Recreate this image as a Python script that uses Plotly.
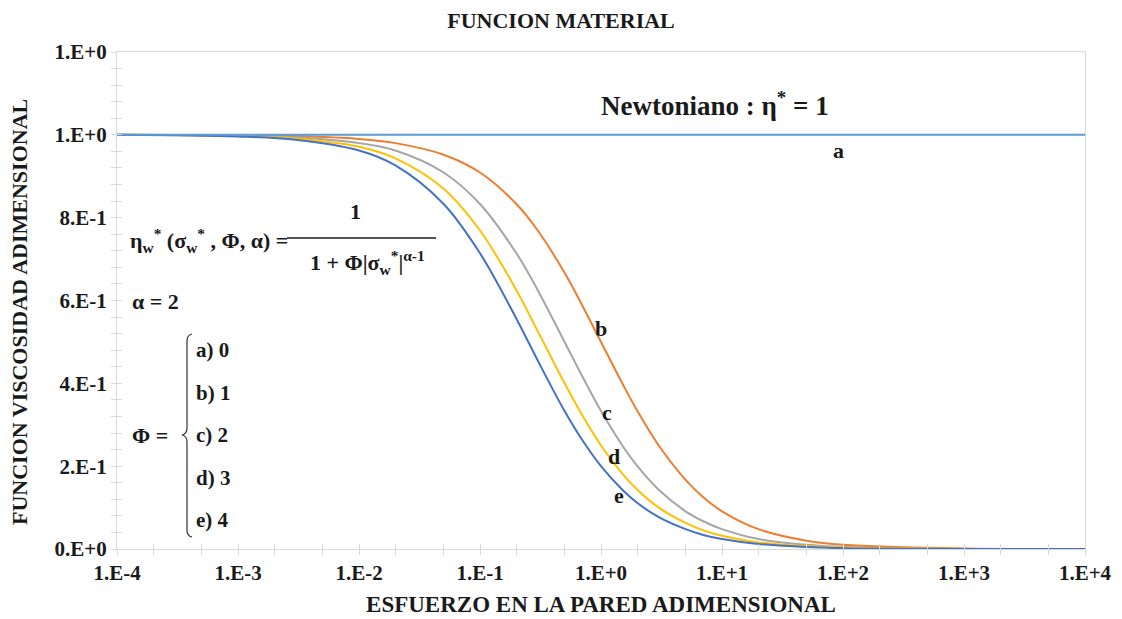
import plotly.graph_objects as go

# ---------------- data ----------------
stress = [1e-4, 1e-3, 3e-3, 1e-2, 2e-2, 5e-2, 0.1, 0.2, 0.3, 0.5, 0.7, 1, 1.5, 2, 3,
          5, 7, 10, 20, 50, 100, 1000, 1e4]
visc_a = [1.000] * 23
visc_b = [1.000, 0.999, 0.997, 0.990, 0.980, 0.952, 0.909, 0.833, 0.769, 0.667, 0.588,
          0.500, 0.400, 0.333, 0.250, 0.167, 0.125, 0.091, 0.048, 0.020, 0.010, 0.001, 0.000]
visc_c = [1.000, 0.998, 0.994, 0.980, 0.962, 0.909, 0.833, 0.714, 0.625, 0.500, 0.417,
          0.333, 0.250, 0.200, 0.143, 0.091, 0.067, 0.048, 0.024, 0.010, 0.005, 0.000, 0.000]
visc_d = [1.000, 0.997, 0.991, 0.971, 0.943, 0.870, 0.769, 0.625, 0.526, 0.400, 0.323,
          0.250, 0.182, 0.143, 0.100, 0.063, 0.045, 0.032, 0.016, 0.007, 0.003, 0.000, 0.000]
visc_e = [1.000, 0.996, 0.988, 0.962, 0.926, 0.833, 0.714, 0.556, 0.455, 0.333, 0.263,
          0.200, 0.143, 0.111, 0.077, 0.048, 0.034, 0.024, 0.012, 0.005, 0.002, 0.000, 0.000]

x_tickvals = [1e-4, 1e-3, 1e-2, 1e-1, 1, 10, 100, 1e3, 1e4]
x_ticktext = ["1.E-4", "1.E-3", "1.E-2", "1.E-1", "1.E+0", "1.E+1", "1.E+2", "1.E+3", "1.E+4"]
y_tickvals = [0, 0.2, 0.4, 0.6, 0.8, 1.0, 1.2]
y_ticktext = ["0.E+0", "2.E-1", "4.E-1", "6.E-1", "8.E-1", "1.E+0", "1.E+0"]

# ---------------- layout geometry ----------------
W, H = 1122, 619
L, R, T, B = 117, 37, 52, 70
PW, PH = W - L - R, H - T - B


def px(x):
    return (x - L) / PW


def py(y):
    return (H - B - y) / PH


FONT = "Times New Roman, Liberation Serif, serif"
INK = "#1a1a1a"
GRAY = "#d9d9d9"

fig = go.Figure()
series = [
    ("a", visc_a, "#5B9BD5", "x2", "y2"),
    ("b", visc_b, "#ED7D31", "x", "y"),
    ("c", visc_c, "#A5A5A5", "x", "y"),
    ("d", visc_d, "#FFC000", "x", "y"),
    ("e", visc_e, "#4472C4", "x", "y"),
]
for name, vals, col, xa, ya in series:
    fig.add_trace(go.Scatter(x=stress, y=vals, mode="lines", name=name,
                             line=dict(color=col, width=2, shape="spline", smoothing=1.0),
                             xaxis=xa, yaxis=ya, showlegend=False, hoverinfo="skip"))

axis_common = dict(showgrid=False, zeroline=False, linecolor=GRAY, linewidth=1.3,
                   showline=True, automargin=False)
fig.update_layout(
    width=W, height=H,
    margin=dict(l=L, r=R, t=T, b=B),
    paper_bgcolor="white", plot_bgcolor="white",
    font=dict(family=FONT, color=INK),
    title=dict(text="<b>FUNCION MATERIAL</b>", x=0.5, xanchor="center", y=1 - 20 / H,
               yanchor="middle", font=dict(size=22, family=FONT, color=INK)),
    xaxis=dict(type="log", range=[-4, 4], tickvals=x_tickvals,
               ticktext=["<b>" + t + "</b>" for t in x_ticktext],
               ticks="outside", ticklen=5, tickcolor=GRAY, mirror=True,
               tickfont=dict(size=21, family=FONT, color=INK),
               minor=dict(ticks="outside", ticklen=5, tickcolor=GRAY, showgrid=False),
               title=dict(text="<b>ESFUERZO EN LA PARED ADIMENSIONAL</b>", standoff=11,
                          font=dict(size=23, family=FONT, color=INK)),
               **axis_common),
    yaxis=dict(range=[0, 1.2], tickvals=y_tickvals,
               ticktext=["<b>" + t + "</b>" for t in y_ticktext],
               ticks="outside", ticklen=5, tickcolor=GRAY, mirror=True,
               tickfont=dict(size=21, family=FONT, color=INK),
               minor=dict(ticks="outside", ticklen=5, tickcolor=GRAY, dtick=0.04, tick0=0,
                          showgrid=False),
               **axis_common),
    xaxis2=dict(type="log", range=[-4, 4], overlaying="x", anchor="y", side="bottom",
                tickvals=x_tickvals, showticklabels=False, ticks="inside", ticklen=5,
                tickcolor=GRAY, minor=dict(ticks="inside", ticklen=5, tickcolor=GRAY),
                showline=False, showgrid=False, zeroline=False, automargin=False),
    yaxis2=dict(range=[0, 1.2], overlaying="y", anchor="x", side="left",
                tickvals=y_tickvals, showticklabels=False, ticks="inside", ticklen=5,
                tickcolor=GRAY, minor=dict(ticks="inside", ticklen=5, tickcolor=GRAY,
                                           dtick=0.04, tick0=0),
                showline=False, showgrid=False, zeroline=False, automargin=False),
)


def ann(text, x, y, size=20, xanchor="center", angle=0):
    fig.add_annotation(text=text, x=px(x), y=py(y), xref="paper", yref="paper",
                       showarrow=False, xanchor=xanchor, yanchor="middle", textangle=angle,
                       font=dict(size=size, family=FONT, color=INK))


# y-axis title
ann("<b>FUNCION VISCOSIDAD ADIMENSIONAL</b>", 19, 312, size=22, angle=-90)

ann("<b>Newtoniano : η<sup>*</sup> = 1</b>", 715, 104, size=27)
ann("<b>a</b>", 838, 150, size=22)
ann("<b>b</b>", 601, 328, size=22)
ann("<b>c</b>", 607, 412, size=22)
ann("<b>d</b>", 614, 456, size=22)
ann("<b>e</b>", 619, 495, size=22)

# formula
ann("<b>η<sub>w</sub><sup>*</sup> (σ<sub>w</sub><sup>*</sup> , Φ, α) =</b>", 128, 240, size=22,
    xanchor="left")
ann("<b>1</b>", 355, 211, size=22)
ann("<b>1 + Φ|σ<sub>w</sub><sup>*</sup>|<sup>α-1</sup></b>", 367, 262, size=22)
fig.add_shape(type="line", xref="paper", yref="paper", x0=px(287), x1=px(436),
              y0=py(238), y1=py(238), line=dict(color=INK, width=1.5))

ann("<b>α = 2</b>", 130, 301, size=22, xanchor="left")
ann("<b>Φ =</b>", 130, 435, size=22, xanchor="left")
for lab, yy in zip(["a) 0", "b) 1", "c) 2", "d) 3", "e) 4"], [350, 393, 435, 478, 520]):
    ann("<b>" + lab + "</b>", 194, yy, size=21, xanchor="left")

# brace
pts = [(192, 334), (187, 335), (187, 341), (187, 428), (187, 434), (182, 435),
       (187, 436), (187, 442), (187, 530), (187, 536), (192, 537)]
p = [(px(a), py(b)) for a, b in pts]
path = (f"M {p[0][0]},{p[0][1]} Q {p[1][0]},{p[1][1]} {p[2][0]},{p[2][1]} "
        f"L {p[3][0]},{p[3][1]} Q {p[4][0]},{p[4][1]} {p[5][0]},{p[5][1]} "
        f"Q {p[6][0]},{p[6][1]} {p[7][0]},{p[7][1]} L {p[8][0]},{p[8][1]} "
        f"Q {p[9][0]},{p[9][1]} {p[10][0]},{p[10][1]}")
fig.add_shape(type="path", path=path, xref="paper", yref="paper",
              line=dict(color="#333333", width=1.2))

fig.write_html("out.html")
